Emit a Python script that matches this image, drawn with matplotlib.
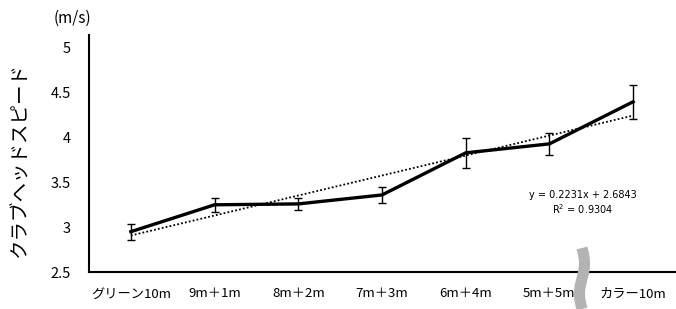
import numpy as np
import matplotlib.pyplot as plt
from matplotlib.lines import Line2D

plt.rcParams['font.family'] = ['Noto Sans CJK JP', 'DejaVu Sans']

categories = ['グリーン10m', '9m＋1m', '8m＋2m', '7m＋3m', '6m＋4m', '5m＋5m', 'カラー10m']
speed = [2.95, 3.25, 3.26, 3.36, 3.83, 3.93, 4.40]
speed_err = [0.09, 0.08, 0.07, 0.09, 0.17, 0.12, 0.19]
trend_slope = 0.2231
trend_intercept = 2.6843
trend_r2 = 0.9304
y_ticks = [2.5, 3, 3.5, 4, 4.5, 5]

W, H = 676, 309
fig = plt.figure(figsize=(W / 100, H / 100), dpi=100)
ax = fig.add_axes([89 / W, 1 - 272 / H, (675 - 89) / W, (272 - 35) / H])

x = np.arange(len(categories))
ax.errorbar(x, speed, yerr=speed_err, color='black', linewidth=2.4,
            elinewidth=1.0, capsize=3, capthick=1.0, zorder=3)

xn = np.arange(1, len(categories) + 1)
trend = trend_slope * xn + trend_intercept
ax.plot(x, trend, color='black', linestyle=(0, (1, 1.2)), linewidth=1.3, zorder=2)

ax.text(5.4, 3.27, f'y = {trend_slope}x + {trend_intercept}\nR$^2$ = {trend_r2}',
        ha='center', va='center', fontsize=7, linespacing=1.2,
        family='DejaVu Sans')

ax.set_xlim(-0.5, len(categories) - 0.5)
ax.set_ylim(2.5, 5.145)
ax.set_yticks(y_ticks)
ax.set_yticklabels(['2.5', '3', '3.5', '4', '4.5', '5'])
ax.set_xticks(x)
ax.set_xticklabels(categories)
ax.tick_params(axis='y', length=0, pad=13, labelsize=10.5)
ax.tick_params(axis='x', length=0, pad=11, labelsize=9.5)
for s in ['top', 'right']:
    ax.spines[s].set_visible(False)
for s in ['left', 'bottom']:
    ax.spines[s].set_linewidth(1.5)
    ax.spines[s].set_color('black')

fig.text(20 / W, 1 - 160 / H, 'クラブヘッドスピード', rotation=90,
         ha='center', va='center', fontsize=14)
fig.text(72 / W, 1 - 18 / H, '(m/s)', ha='center', va='center', fontsize=11)

# axis break mark
yy = np.linspace(248, 309, 60)
xx = 582 + 2.5 * np.sin((yy - 248) / 61 * 2 * np.pi)
fig.add_artist(Line2D(xx / W, 1 - yy / H, color='#b3b3b3', linewidth=8,
                      solid_capstyle='butt', zorder=5))

fig.savefig('out.png', dpi=100)
